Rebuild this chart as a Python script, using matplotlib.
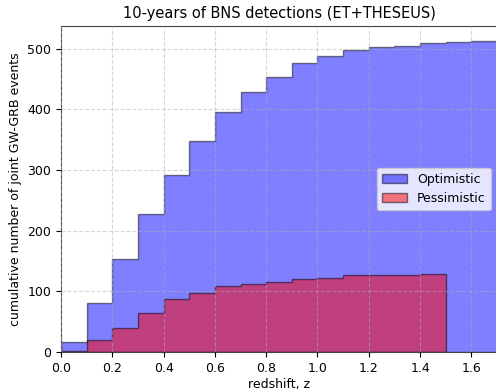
import numpy as np
import matplotlib
matplotlib.use("Agg")
import matplotlib.pyplot as plt

# redshift bin edges and cumulative counts of joint GW-GRB events
z_edges = [0.0, 0.1, 0.2, 0.3, 0.4, 0.5, 0.6, 0.7, 0.8, 0.9, 1.0,
           1.1, 1.2, 1.3, 1.4, 1.5, 1.6, 1.7]
optimistic = [17, 80, 153, 228, 292, 348, 395, 428, 453, 476, 488,
              498, 502, 504, 509, 510, 512]
pess_edges = [0.0, 0.1, 0.2, 0.3, 0.4, 0.5, 0.6, 0.7, 0.8, 0.9, 1.0,
              1.1, 1.2, 1.3, 1.4, 1.5]
pessimistic = [1, 20, 39, 64, 87, 97, 109, 112, 116, 121, 122,
               127, 127, 127, 128]

fig = plt.figure(figsize=(4.96, 3.89), dpi=100)
ax = fig.add_axes([0.123, 0.095, 0.879, 0.838])

ax.hist(z_edges[:-1], bins=z_edges, weights=optimistic, histtype="stepfilled",
        color="blue", alpha=0.5, edgecolor="black", linewidth=1.0,
        label="Optimistic")
ax.hist(pess_edges[:-1], bins=pess_edges, weights=pessimistic,
        histtype="stepfilled", color="red", alpha=0.5, edgecolor="black",
        linewidth=1.0, label="Pessimistic")

ax.set_xlim(0, 1.7)
ax.set_ylim(0, 537)
ax.set_xticks(np.arange(0, 1.61, 0.2))
ax.set_yticks(np.arange(0, 501, 100))
ax.tick_params(labelsize=9)
ax.set_axisbelow(False)
ax.grid(True, linestyle="--", color="#b0b0b0", alpha=0.5, linewidth=0.8)

ax.set_xlabel("redshift, z", fontsize=9, labelpad=2)
ax.set_ylabel("cumulative number of joint GW-GRB events", fontsize=9)
ax.set_title("10-years of BNS detections (ET+THESEUS)", fontsize=10.5)
ax.legend(loc="center right", fontsize=9)

for s in ax.spines.values():
    s.set_color("#444444")

fig.savefig("out.png", dpi=100)
